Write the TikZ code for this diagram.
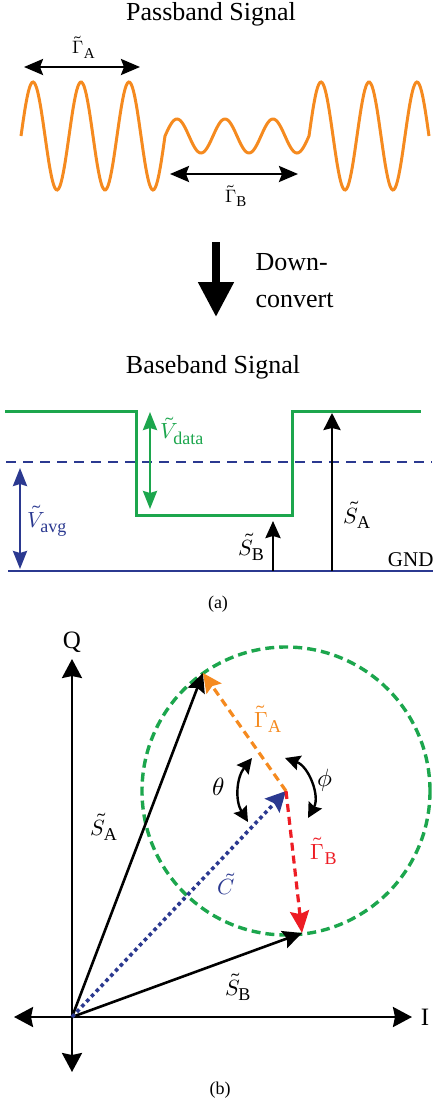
\documentclass[tikz,border=0pt]{standalone}
\usepackage{fontspec}
\usepackage{unicode-math}
\setmainfont{Liberation Serif}
\setmathfont{Latin Modern Math}
\usetikzlibrary{arrows.meta}

\definecolor{wavorange}{RGB}{245,138,31}
\definecolor{datagreen}{RGB}{28,166,77}
\definecolor{avgblue}{RGB}{43,57,144}
\definecolor{gbred}{RGB}{237,28,36}

% subscripts set larger than the default script size
\newcommand{\sbig}[1]{\mbox{\fontsize{18}{18}\selectfont$\mathrm{#1}$}}
\newcommand{\ssml}[1]{\mbox{\fontsize{15}{15}\selectfont$\mathrm{#1}$}}

\tikzset{
  title/.style={font=\fontsize{26}{30}\selectfont},
  small/.style={font=\fontsize{18}{22}\selectfont},
  big/.style={font=\fontsize{25}{28}\selectfont},
  sig/.style={wavorange, line width=3pt},
  vec/.style={line width=2.6pt, -{Stealth[length=19pt,width=18pt,inset=3pt]}},
  dblvec/.style={line width=2.6pt, >={Stealth[length=19pt,width=16pt,inset=3pt]}, <->},
  lvl/.style={line width=2.6pt, >={Stealth[length=18pt,width=14pt,inset=2pt]}, <->},
  iqaxis/.style={line width=2.6pt, >={Stealth[length=19pt,width=20pt,inset=2pt]}, <->},
  turn/.style={line width=2.4pt, >={Stealth[length=15pt,width=15pt,inset=2pt]}, <->},
}

\begin{document}
\begin{tikzpicture}[x=1pt, y=-1pt, font=\fontsize{22}{26}\selectfont]
\useasboundingbox (0,0) rectangle (433,1106);

% passband signal
\node[title] (pass) at (211,14) {Passband Signal};
\draw[sig] plot[domain=21:165,samples=120] (\x,{136-54*sin(7.5*(\x-21))})
  -- plot[domain=165:309,samples=120] (\x,{136-17*sin(7.5*(\x-165))})
  -- plot[domain=309:429,samples=100] (\x,{136-54*sin(7.5*(\x-309))});
\coordinate (ga1) at (24,67); \coordinate (ga2) at (140,67);
\coordinate (gb1) at (170,174); \coordinate (gb2) at (298,174);
\draw[dblvec] (ga1) -- (ga2);
\draw[dblvec] (gb1) -- (gb2);
\node[small] (gaA) at (84,47) {$\tilde{\Gamma}_{\ssml{A}}$};
\node[small] (gaB) at (236,196) {$\tilde{\Gamma}_{\ssml{B}}$};

% down-conversion
\coordinate (dc1) at (216,242); \coordinate (dc2) at (216,317);
\draw[line width=8pt, -{Triangle[length=35pt,width=34pt]}] (dc1) -- (dc2);
\node[title, anchor=west] (down) at (252,262) {Down-};
\node[title, anchor=west] (conv) at (252,300) {convert};

% baseband signal
\node[title] (base) at (213,367) {Baseband Signal};
\draw[datagreen, line width=3pt] (5,411) -- (136,411) -- (136,515) -- (292,515) -- (292,411) -- (421,411);
\draw[avgblue, line width=2.2pt, dash pattern=on 10pt off 7pt] (6,462) -- (432,462);
\draw[avgblue, line width=2.4pt] (8,571) -- (433,571);
\coordinate (vd1) at (150,412); \coordinate (vd2) at (150,509);
\coordinate (va1) at (20,468); \coordinate (va2) at (20,569);
\coordinate (g1) at (273,571); \coordinate (sb1) at (273,521);
\coordinate (g2) at (332,571); \coordinate (sa1) at (332,413);
\draw[lvl, datagreen] (vd1) -- (vd2);
\draw[lvl, avgblue] (va1) -- (va2);
\draw[vec, -{Stealth[length=17pt,width=15pt,inset=2pt]}] (g1) -- (sb1);
\draw[vec, -{Stealth[length=17pt,width=17pt,inset=2pt]}] (g2) -- (sa1);
\node[datagreen, anchor=west] (vdata) at (157,431) {$\tilde{V}_{\sbig{data}}$};
\node[avgblue, anchor=west] (vavg) at (24,521) {$\tilde{V}_{\sbig{avg}}$};
\node[anchor=east] (sbl) at (268,547) {$\tilde{S}_{\sbig{B}}$};
\node[anchor=west] (sal) at (340,515) {$\tilde{S}_{\sbig{A}}$};
\node[anchor=east, font=\fontsize{21}{24}\selectfont] (gnd) at (437,560) {GND};
\node[small] (capa) at (218,604) {(a)};

% IQ plane
\coordinate (O) at (72,1017);
\coordinate (C) at (286,791);
\coordinate (SA) at (203,673);
\coordinate (SB) at (302,933);
\draw[datagreen, line width=3.4pt, dash pattern=on 9pt off 5pt] (C) circle (144pt);
\coordinate (xw) at (14,1017); \coordinate (xe) at (412,1017);
\coordinate (ys) at (72,1072); \coordinate (yn) at (72,659);
\draw[iqaxis] (xw) -- (xe);
\draw[iqaxis] (ys) -- (yn);
\node[big] (Q) at (72,642) {$\mathrm{Q}$};
\node[big] (I) at (425,1017) {$\mathrm{I}$};
\draw[vec] (O) -- (SA);
\draw[vec] (O) -- (SB);
\draw[vec, avgblue, line width=3.6pt, dash pattern=on 3.6pt off 3.4pt, -{Stealth[length=20pt,width=20pt,inset=3pt]}] (O) -- (C);
\draw[vec, wavorange, line width=3.2pt, dash pattern=on 8pt off 5pt] (C) -- (SA);
\draw[vec, gbred, line width=3.2pt, dash pattern=on 8pt off 5pt, -{Stealth[length=22pt,width=19pt,inset=3pt]}] (C) -- (SB);
\coordinate (th1) at (252,758); \coordinate (th2) at (248,822);
\coordinate (ph1) at (285,758); \coordinate (ph2) at (308,818);
\draw[turn] (th1) to[bend right=35] (th2);
\draw[turn] (ph1) to[bend left=50] (ph2);
\node[big] (theta) at (219,787) {$\theta$};
\node[big] (phi) at (325,780) {$\phi$};
\node[wavorange] (gamA) at (268,719) {$\tilde{\Gamma}_{\sbig{A}}$};
\node[gbred] (gamB) at (324,851) {$\tilde{\Gamma}_{\sbig{B}}$};
\node[avgblue] (cl) at (226,884) {$\tilde{C}$};
\node (sA) at (104,827) {$\tilde{S}_{\sbig{A}}$};
\node (sB) at (238,987) {$\tilde{S}_{\sbig{B}}$};
\node[small] (capb) at (220,1090) {(b)};
\end{tikzpicture}
\end{document}
